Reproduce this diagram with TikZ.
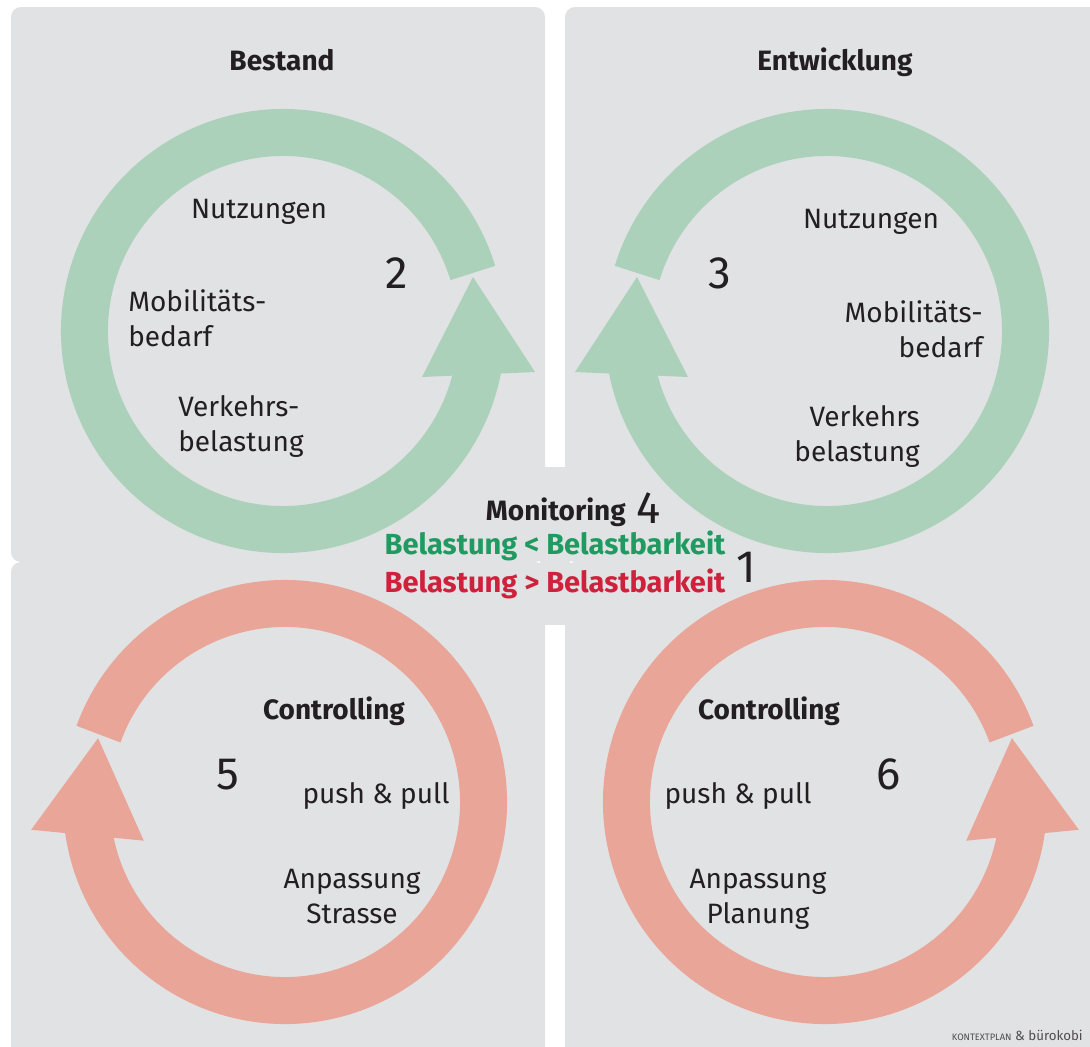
\documentclass[tikz,border=0pt]{standalone}
\usepackage{fontspec}
\setmainfont{Fira Sans}
\usepackage{xcolor}
\usepackage{tikz}
\usetikzlibrary{positioning}

\definecolor{panelgrey}{HTML}{E1E2E4}
\definecolor{ringgreen}{HTML}{ABD1BB}
\definecolor{ringred}{HTML}{E8A598}
\definecolor{textgreen}{HTML}{1F9A60}
\definecolor{textred}{HTML}{D0213C}
\definecolor{textdark}{HTML}{231F20}

\begin{document}
\begin{tikzpicture}[
    x=0.75pt, y=0.75pt,
    panel/.style={fill=panelgrey, rounded corners=7.5pt},
    lbl/.style={font=\fontsize{21}{26}\selectfont, text=textdark, inner sep=0pt},
    head/.style={lbl, font=\fontsize{21}{26}\selectfont\bfseries},
    num/.style={font=\fontsize{34}{40}\selectfont, text=textdark, inner sep=0pt},
    loopring/.pic={
        \draw[#1, line width=35.25pt] (17:198.5) arc[start angle=17, end angle=349, radius=198.5];
        \fill[#1] (139,-46) -- (252,-41) -- (190,54) -- cycle;
    }
]
    \useasboundingbox (0,0) rectangle (1090,-1047);
    \fill[white] (0,0) rectangle (1090,-1047);

    % panels
    \fill[panel] (11,-7) rectangle (545,-562);
    \fill[panel] (565,-7) rectangle (1110,-562);
    \fill[panel] (11,-562) rectangle (545,-1070);
    \fill[panel] (565,-562) rectangle (1110,-1070);
    \fill[panelgrey] (540,-467) rectangle (570,-625);

    % rings
    \pic at (283,-331) {loopring=ringgreen};
    \pic[xscale=-1] at (827,-331) {loopring=ringgreen};
    \pic[xscale=-1, rotate=3] at (285,-802) {loopring=ringred};
    \pic[rotate=3] at (825,-802) {loopring=ringred};

    % Bestand
    \node[head, anchor=base] at (282,-70) (bestand) {Bestand};
    \node[lbl, anchor=base] at (259,-218) (nutzL) {Nutzungen};
    \node[num, anchor=base] at (397,-288) (two) {2};
    \node[lbl, anchor=base west, align=left] at (128,-346) (mobL) {Mobilitäts-\\bedarf};
    \node[lbl, anchor=base west, align=left] at (178,-451) (verkL) {Verkehrs-\\belastung};

    % Entwicklung
    \node[head, anchor=base] at (835,-70) (entw) {Entwicklung};
    \node[lbl, anchor=base] at (871,-228) (nutzR) {Nutzungen};
    \node[num, anchor=base] at (720,-288) (three) {3};
    \node[lbl, anchor=base east, align=right] at (983,-357) (mobR) {Mobilitäts-\\bedarf};
    \node[lbl, anchor=base east, align=right] at (920,-461) (verkR) {Verkehrs\\belastung};

    % Monitoring
    \node[head, anchor=base east] at (626,-520) (moni) {Monitoring};
    \node[num, anchor=base west] at (636,-523) (four) {4};
    \node[head, anchor=base, text=textgreen, font=\fontsize{21.8}{26}\selectfont\bfseries] at (555,-554) (lower) {Belastung < Belastbarkeit};
    \node[head, anchor=base, text=textred, font=\fontsize{21.8}{26}\selectfont\bfseries] at (555,-592) (upper) {Belastung > Belastbarkeit};
    \node[num, anchor=base] at (746,-582) (one) {1};

    % Controlling links
    \node[head, anchor=base] at (334,-719) (contL) {Controlling};
    \node[num, anchor=base] at (228,-789) (five) {5};
    \node[lbl, anchor=base] at (376,-803) (pushL) {push \& pull};
    \node[lbl, anchor=base, align=center] at (352,-923) (anpL) {Anpassung\\Strasse};

    % Controlling rechts
    \node[head, anchor=base] at (769,-719) (contR) {Controlling};
    \node[num, anchor=base] at (889,-789) (six) {6};
    \node[lbl, anchor=base] at (738,-803) (pushR) {push \& pull};
    \node[lbl, anchor=base, align=center] at (758,-923) (anpR) {Anpassung\\Planung};

    \node[anchor=base east, inner sep=0pt, text=textdark!80, font=\fontsize{10}{12}\selectfont] at (1083,-1040) (credit) {{\fontsize{7}{8}\selectfont KONTEXTPLAN} \& bürokobi};
\end{tikzpicture}
\end{document}
